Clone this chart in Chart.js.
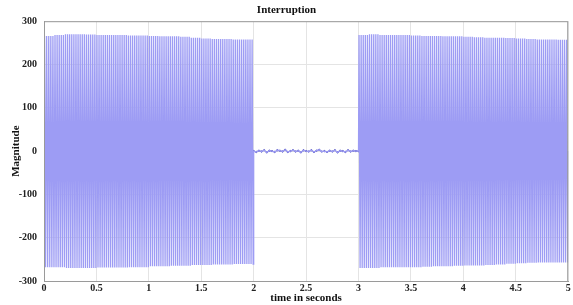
<!DOCTYPE html>
<html>
<head>
<meta charset="utf-8">
<script src="https://cdn.jsdelivr.net/npm/chart.js@4/dist/chart.umd.min.js"></script>
<style>
  html, body { margin: 0; padding: 0; background: #fff; }
  #wrap { width: 573px; height: 305px; }
</style>
</head>
<body>
<div id="wrap"><canvas id="myChart" width="573" height="305"></canvas></div>
<script>
// valores
const frecuencia = 50; // ciclos por segundo
// envolvente superior e inferior cada 0.1 s, tramo 0-2 s
const picosA = [266, 268, 270, 270, 269, 268, 268, 268, 267, 267, 266, 265, 265, 264, 262, 260, 259, 259, 258, 258];
const vallesA = [268, 268, 270, 270, 270, 269, 269, 269, 268, 268, 266, 266, 265, 265, 263, 263, 262, 262, 261, 261];
// tramo 3-5 s
const picosB = [268, 270, 268, 268, 268, 267, 266, 266, 265, 265, 264, 263, 262, 262, 261, 260, 259, 258, 258, 257];
const vallesB = [270, 270, 268, 268, 268, 268, 267, 266, 266, 265, 264, 264, 263, 262, 260, 259, 258, 257, 257, 257];
// interrupcion 2-3 s, cada 0.025 s
const ruido = [0, -2, 1, -1, 2, -3, 1, 0, -2, 2, 1, -1, 3, -2, 0, 2, -1, 1, -3, 2, 0,
               -1, 2, -2, 1, 3, -1, 0, -2, 1, -1, 2, -3, 1, 0, -2, 2, -1, 1, 0, 0];
const ticksX = [0, 0.5, 1, 1.5, 2, 2.5, 3, 3.5, 4, 4.5, 5];
const ticksY = [-300, -200, -100, 0, 100, 200, 300];

const fuente = { family: 'Liberation Serif', weight: 'bold', size: 10 };

function armarTramo(inicio, picos, valles) {
    const puntos = [];
    const ciclos = picos.length * frecuencia / 10;
    puntos.push({ x: inicio, y: 0 });
    for (let k = 0; k < ciclos; k++) {
        const t = inicio + k / frecuencia;
        const i = Math.floor(k * 10 / frecuencia);
        puntos.push({ x: t + 0.25 / frecuencia, y: picos[i] });
        puntos.push({ x: t + 0.75 / frecuencia, y: -valles[i] });
    }
    puntos.push({ x: inicio + picos.length / 10, y: 0 });
    return puntos;
}

const interrupcion = ruido.map((v, i) => ({ x: 2 + i * 0.025, y: v }));

const senal = armarTramo(0, picosA, vallesA)
    .concat(interrupcion)
    .concat(armarTramo(3, picosB, vallesB));

// marco gris alrededor del area
const marco = {
    id: 'marco',
    afterDraw(chart) {
        const a = chart.chartArea;
        const ctx = chart.ctx;
        ctx.save();
        ctx.strokeStyle = '#9a9a9a';
        ctx.lineWidth = 1;
        ctx.strokeRect(a.left + 0.5, a.top + 0.5, a.right - a.left - 1, a.bottom - a.top);
        ctx.restore();
    }
};

const ctx = document.getElementById('myChart').getContext('2d');
new Chart(ctx, {
    type: 'line',
    data: {
        datasets: [{
            data: senal,
            borderColor: '#9d9cf4',
            borderWidth: 1.3,
            pointRadius: 0,
            tension: 0
        }, {
            data: interrupcion,
            borderColor: '#4a4ab8',
            backgroundColor: '#4a4ab8',
            borderWidth: 0.8,
            pointRadius: 0.7,
            tension: 0
        }]
    },
    options: {
        responsive: false,
        animation: false,
        layout: { padding: { left: 0, right: 0, top: 0, bottom: 0 } },
        plugins: {
            legend: { display: false },
            tooltip: { enabled: false },
            title: {
                display: true,
                text: 'Interruption',
                color: '#111',
                font: { family: 'Liberation Serif', weight: 'bold', size: 11 },
                padding: { top: 4, bottom: 4 }
            }
        },
        scales: {
            x: {
                type: 'linear',
                min: 0,
                max: 5,
                afterBuildTicks: s => { s.ticks = ticksX.map(v => ({ value: v })); },
                afterFit: s => { s.height = 24; },
                ticks: { color: '#222', font: fuente, padding: 1, maxRotation: 0, callback: v => String(v) },
                grid: { color: '#e4e4e4', drawTicks: false },
                border: { color: '#9a9a9a' },
                title: {
                    display: true,
                    text: 'time in seconds',
                    color: '#111',
                    font: { family: 'Liberation Serif', weight: 'bold', size: 11 },
                    padding: 0
                }
            },
            y: {
                min: -300,
                max: 300,
                afterBuildTicks: s => { s.ticks = ticksY.map(v => ({ value: v })); },
                afterFit: s => { s.width = 44; },
                ticks: { color: '#222', font: fuente, padding: 7 },
                grid: { color: '#e4e4e4', drawTicks: false },
                border: { color: '#9a9a9a' },
                title: {
                    display: true,
                    text: 'Magnitude',
                    color: '#111',
                    font: { family: 'Liberation Serif', weight: 'bold', size: 11 },
                    padding: { top: 10, bottom: 0 }
                }
            }
        }
    },
    plugins: [marco]
});
</script>
</body>
</html>
